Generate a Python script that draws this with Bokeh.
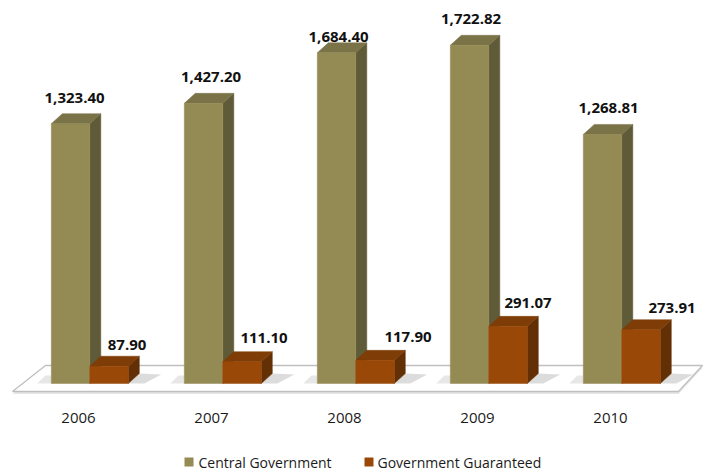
from bokeh.plotting import figure
from bokeh.models import Range1d
from bokeh.core.properties import value
from bokeh.embed import file_html
from bokeh.resources import INLINE

# ---------------- data ----------------
years = ["2006", "2007", "2008", "2009", "2010"]
central = [1323.40, 1427.20, 1684.40, 1722.82, 1268.81]
guaranteed = [87.90, 111.10, 117.90, 291.07, 273.91]
series_names = ["Central Government", "Government Guaranteed"]

# ---------------- styles / label nudges (px) ----------------
central_lbl_dx = [4, 7.5, 2, 1.5, 6]
central_lbl_dy = [16, 16, 6, 16.5, 16]
guar_lbl_dx = [18, 22, 33, 20, 31]
guar_lbl_dy = [11, 14, 13, 13, 12]

C_FRONT, C_SIDE, C_TOP = "#948A54", "#5F5A37", "#7A7347"
G_FRONT, G_SIDE, G_TOP = "#9A4808", "#633006", "#7E3C06"
FONT = "Open Sans"

W, H = 703, 471
PX_PER_UNIT = 0.1963
U = 1.0 / PX_PER_UNIT
BASE_Y = 383.0        # screen y (from top) of value 0


def sy(py):
    """screen y (px from top) -> data y"""
    return (BASE_Y - py) * U


X0 = 50.8             # left of first group's front face (px)
STEP = 133.0
BW = 38.5
DX = 11.0
DY = 10.0 * U

p = figure(width=W, height=H, output_backend="svg", toolbar_location=None,
           x_range=Range1d(0, W), y_range=Range1d(sy(H), sy(0)),
           x_axis_type=None, y_axis_type=None, min_border=0,
           outline_line_color=None, background_fill_color="white",
           border_fill_color="white")

n = len(years)

# ---------------- floor ----------------
fl_front, fl_back = sy(391), sy(365)
floor_x = [12, 678, 702, 45]
p.patch(floor_x, [fl_front - 2.5 * U, fl_front - 2.5 * U, fl_back - 2.5 * U, fl_back - 2.5 * U],
        fill_color="#E6E6E6", line_color=None)
p.patch(floor_x, [fl_front, fl_front, fl_back, fl_back],
        fill_color="white", line_color="#BFBFBF", line_width=1.3)

# ---------------- shadows on floor ----------------
sh_xs, sh_ys = [], []
sh2_xs, sh2_ys = [], []
for i in range(n):
    xc0 = X0 + STEP * i
    xg1 = xc0 + 2 * BW
    sh_xs.append([xg1, xg1 + DX, xg1 + DX + 22, xg1 + 16])
    sh_ys.append([0, DY, DY * 0.9, 0])
    sh2_xs.append([xc0 - 14, xc0, xc0, xc0 - 6])
    sh2_ys.append([0, 0, DY * 0.8, DY * 0.8])
p.patches(sh_xs, sh_ys, fill_color="#9A9A9A", fill_alpha=0.35, line_color=None)
p.patches(sh2_xs, sh2_ys, fill_color="#B0B0B0", fill_alpha=0.3, line_color=None)


def bar3d(x0s, vals, front, side, top):
    fx, fy, sx, syy, tx, ty = [], [], [], [], [], []
    for x0, v in zip(x0s, vals):
        x1 = x0 + BW
        fx.append([x0, x1, x1, x0]); fy.append([0, 0, v, v])
        sx.append([x1, x1 + DX, x1 + DX, x1]); syy.append([0, DY, v + DY, v])
        tx.append([x0, x0 + DX, x1 + DX, x1]); ty.append([v, v + DY, v + DY, v])
    p.patches(sx, syy, fill_color=side, line_color=side, line_width=0.5)
    p.patches(tx, ty, fill_color=top, line_color=top, line_width=0.5)
    p.patches(fx, fy, fill_color=front, line_color=front, line_width=0.5)


c_x0 = [X0 + STEP * i for i in range(n)]
g_x0 = [X0 + STEP * i + BW for i in range(n)]
bar3d(c_x0, central, C_FRONT, C_SIDE, C_TOP)
bar3d(g_x0, guaranteed, G_FRONT, G_SIDE, G_TOP)


# ---------------- value labels ----------------
def fmt(v):
    return f"{v:,.2f}"


lx = [x + BW / 2 + d for x, d in zip(c_x0, central_lbl_dx)] + \
     [x + BW / 2 + d for x, d in zip(g_x0, guar_lbl_dx)]
ly = [v + DY + d * U for v, d in zip(central, central_lbl_dy)] + \
     [v + DY + d * U for v, d in zip(guaranteed, guar_lbl_dy)]
lt = [fmt(v) for v in central] + [fmt(v) for v in guaranteed]
p.text(lx, ly, text=lt, text_font=value(FONT), text_font_style="bold",
       text_font_size="15px", text_align="center", text_baseline="middle",
       text_color="#111111")

# ---------------- category labels ----------------
p.text([x + 27.2 for x in c_x0], [sy(417.5)] * n, text=years,
       text_font=value(FONT), text_font_size="15px", text_align="center",
       text_baseline="middle", text_color="#1A1A1A")

# ---------------- legend ----------------
leg_y = sy(461.5)
leg_sq_x = [188.5, 368.5]
leg_tx_x = [198.0, 377.0]
p.scatter(leg_sq_x, [leg_y, leg_y], marker="square", size=9,
          fill_color=[C_FRONT, G_FRONT], line_color=None)
p.text(leg_tx_x, [leg_y, leg_y], text=series_names, text_font=value(FONT),
       text_font_size="14px", text_align="left", text_baseline="middle",
       text_color="#1A1A1A")

open("out.html", "w").write(file_html(p, INLINE))
